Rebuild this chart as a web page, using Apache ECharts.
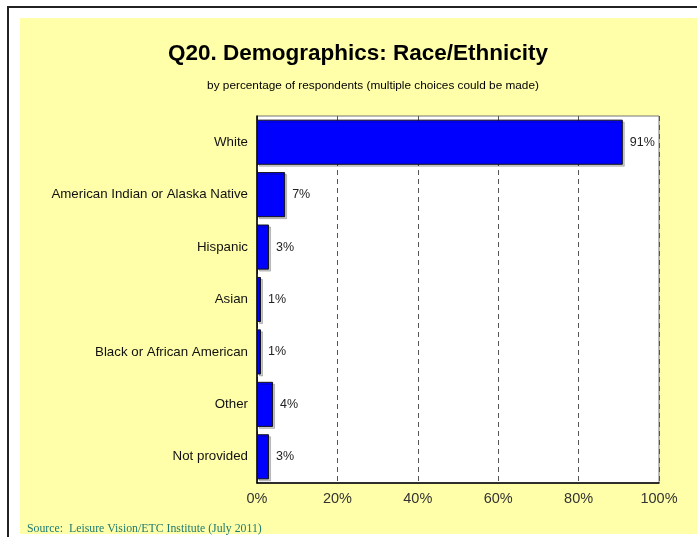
<!DOCTYPE html>
<html>
<head>
<meta charset="utf-8">
<script src="https://cdn.jsdelivr.net/npm/echarts@6/dist/echarts.min.js"></script>
<style>
  html, body { margin: 0; padding: 0; background: #fff; }
  #chart { width: 697px; height: 537px; }
</style>
</head>
<body>
<div id="chart"></div>
<script>
// Survey question Q20: race / ethnicity of respondents
const categories = [
  'White',
  'American Indian or Alaska Native',
  'Hispanic',
  'Asian',
  'Black or African American',
  'Other',
  'Not provided'
];
const percentages = [91, 7, 3, 1, 1, 4, 3];
const tickLabels = ['0%', '20%', '40%', '60%', '80%', '100%'];

const chart = echarts.init(document.getElementById('chart'));

chart.setOption({
  backgroundColor: '#ffffff',
  animation: false,
  graphic: [
    // page frame lines
    { type: 'line', shape: { x1: 7, y1: 7, x2: 697, y2: 7 }, style: { stroke: '#222', lineWidth: 2 }, z: -10 },
    { type: 'line', shape: { x1: 8, y1: 7, x2: 8, y2: 537 }, style: { stroke: '#222', lineWidth: 2 }, z: -10 },
    // pale yellow panel behind the chart
    { type: 'rect', shape: { x: 20, y: 18, width: 677, height: 516 }, style: { fill: '#FFFFAA' }, z: -10 }
  ],
  title: [
    {
      text: 'Q20. Demographics: Race/Ethnicity',
      left: 353, top: 37, textAlign: 'center',
      textStyle: { fontFamily: 'Liberation Sans, Arial, sans-serif', fontSize: 22.5, fontWeight: 'bold', color: '#000' }
    },
    {
      text: 'by percentage of respondents (multiple choices could be made)',
      left: 368, top: 75, textAlign: 'center',
      textStyle: { fontFamily: 'Liberation Sans, Arial, sans-serif', fontSize: 11.8, fontWeight: 'normal', color: '#000' }
    },
    {
      text: 'Source:  Leisure Vision/ETC Institute (July 2011)',
      left: 22, top: 518,
      textStyle: { fontFamily: 'Liberation Serif, Times New Roman, serif', fontSize: 11.8, fontWeight: 'normal', color: '#1F7A6E' }
    }
  ],
  grid: {
    left: 257, right: 38, top: 116, bottom: 54,
    show: true, backgroundColor: '#ffffff', borderColor: '#777', borderWidth: 1
  },
  xAxis: {
    type: 'value', min: 0, max: 100, interval: 20,
    axisLine: { show: true, lineStyle: { color: '#000', width: 1.5 } },
    axisTick: { show: false },
    axisLabel: {
      formatter: v => tickLabels[v / 20],
      fontFamily: 'Liberation Sans, Arial, sans-serif', fontSize: 14.5, color: '#333', margin: 8
    },
    splitLine: { show: true, lineStyle: { color: '#555', type: [5, 4], width: 1 } }
  },
  yAxis: {
    type: 'category', inverse: true, data: categories,
    axisLine: { show: true, lineStyle: { color: '#000', width: 1.5 } },
    axisTick: { show: false },
    axisLabel: { fontFamily: 'Liberation Sans, Arial, sans-serif', fontSize: 13.3, color: '#111', margin: 9 }
  },
  series: [{
    type: 'bar',
    data: percentages,
    barCategoryGap: '14%',
    itemStyle: {
      color: '#0000FF', borderColor: '#111', borderWidth: 1,
      shadowColor: 'rgba(0,0,0,0.2)', shadowOffsetX: 2, shadowOffsetY: 2, shadowBlur: 0
    },
    label: {
      show: true, position: 'right', distance: 7,
      formatter: p => p.value + '%',
      fontFamily: 'Liberation Sans, Arial, sans-serif', fontSize: 12.5, color: '#222'
    }
  }]
});
</script>
</body>
</html>
